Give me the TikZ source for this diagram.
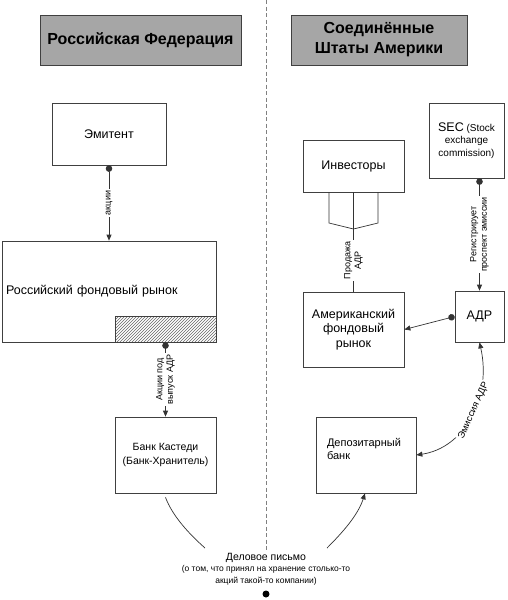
\documentclass[tikz,border=0pt]{standalone}
\usepackage{fontspec}
\setmainfont{Liberation Sans}
\usepackage{tikz}
\usetikzlibrary{arrows.meta,patterns}

\begin{document}
\begin{tikzpicture}[x=1pt,y=-1pt, >={Triangle[length=6pt,width=5pt]},
  box/.style={draw=black!75, line width=0.7pt, inner sep=3pt, align=center, font=\fontsize{12.5}{14.5}\selectfont},
  head/.style={draw=black!75, line width=0.8pt, fill=gray!70, align=center, minimum height=50pt, font=\bfseries\fontsize{16}{20}\selectfont},
  lbl/.style={fill=white, inner sep=1.5pt, rotate=90, align=center, font=\fontsize{9}{10.5}\selectfont},
  line/.style={draw=black!80, line width=0.7pt},
  dot/.style={{Circle[length=6.5pt]}->}]
\useasboundingbox (0,0) rectangle (507,600);

% divider
\coordinate (top) at (266,0);
\coordinate (bot) at (266,551);
\draw[gray, line width=1pt, dash pattern=on 4pt off 2.5pt] (top) -- (bot);

% headings
\node[head, minimum width=201pt] (h1) at (140.5,40) {Российская Федерация};
\node[head, minimum width=176pt] (h2) at (379,40) {Соединённые\\Штаты Америки};

% russian side
\node[box, minimum width=114pt, minimum height=62pt] (1) at (109,134) {Эмитент};
\node[box, minimum width=214pt, minimum height=101pt, text width=206pt, align=left] (2) at (109,291.5) {Российский фондовый рынок};
\node[draw=black!75, line width=0.7pt, pattern=north east lines, pattern color=black!60, minimum width=101pt, minimum height=26pt, inner sep=0, anchor=south east] (3) at (2.south east) {};
\node[box, minimum width=101pt, minimum height=76pt, font=\fontsize{10.5}{14}\selectfont] (4) at (165.5,455) {Банк Кастеди\\(Банк-Хранитель)};

% american side
\node[box, minimum width=101pt, minimum height=52pt] (5) at (353.5,166) {Инвесторы};
\node[box, minimum width=75pt, minimum height=75pt, font=\fontsize{10}{12.5}\selectfont] (6) at (466.5,140.5)
{{\fontsize{12.5}{12.5}\selectfont SEC} (Stock\\exchange\\commission)};
\node[box, minimum width=101pt, minimum height=75pt] (7) at (353.5,329.5) {Американский\\фондовый\\рынок};
\node[box, minimum width=49pt, minimum height=51pt] (8) at (479.5,316.5) {АДР};
\node[box, minimum width=100pt, minimum height=76pt, text width=78pt, align=left, font=\fontsize{11}{13}\selectfont] (9) at (366,455)
{Депозитарный\\банк\\\mbox{}};

% letter
\node[align=center, inner sep=0, font=\fontsize{8.5}{11.5}\selectfont] (10) at (266,569)
{{\fontsize{10.5}{13}\selectfont Деловое письмо}\\(о том, что принял на хранение столько-то\\акций такой-то компании)};
\node[circle, fill=black, inner sep=0, minimum size=7pt] (11) at (266,594) {};

\coordinate (f) at (353.5,229);
\coordinate (l1) at (205,548);
\coordinate (l2) at (327,548);

\draw[line, dot] (1) -- node[lbl] {акции} (2);

\draw[line, dot] (3.south) -- node[lbl] {Акции под\\выпуск АДР} (4.north);

\draw[line] (329,192) -- (329,223) -- (f) -- (378,223) -- (378,192);
\draw[line] (5.south) -- (f);
\draw[line] (f) -- node[lbl] {Продажа\\АДР} (7.north);

\draw[line, dot] (6.south -| 8.north) -- node[lbl] {Регистрирует\\проспект эмиссии} (8.north);

\draw[line, dot] (8.west) -- (7.east);

\draw[line, <->] (8.south) .. controls (492,398) and (464,448) .. node[pos=0.45, sloped, fill=white, inner sep=1.5pt, font=\fontsize{9.5}{10}\selectfont] {Эмиссия АДР} (9.east);

\draw[line] ([yshift=-4pt]4.south) .. controls (172,515) and (188,533) .. (l1);
\draw[line, ->] (l2) .. controls (343,532) and (358,515) .. ([xshift=-1pt]9.south);

\end{tikzpicture}
\end{document}
